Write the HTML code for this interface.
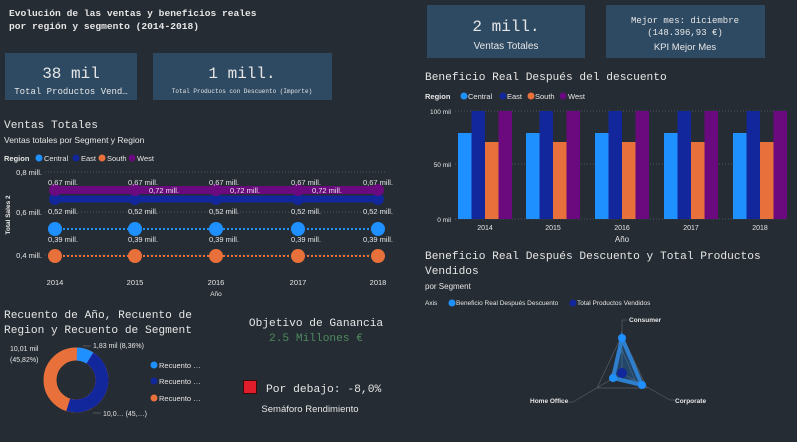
<!DOCTYPE html>
<html><head><meta charset="utf-8"><style>
body{margin:0;background:#252c33;width:797px;height:437px;overflow:hidden}
text{font-family:"Liberation Sans",sans-serif;fill:#e6e6e6}
.m{font-family:"Liberation Mono","DejaVu Sans Mono",monospace}
</style></head><body>
<svg width="797" height="437" xmlns="http://www.w3.org/2000/svg">
<rect width="797" height="437" fill="#252c33"/>
<text class="m" x="9" y="16" font-size="9.6" font-weight="bold">Evolución de las ventas y beneficios reales</text>
<text class="m" x="9" y="29" font-size="9.6" font-weight="bold">por región y segmento (2014-2018)</text>
<rect x="5" y="53" width="132" height="47" fill="#2e4a62"/>
<text class="m" x="71" y="78" font-size="16" text-anchor="middle">38 mil</text>
<text class="m" x="71" y="94" font-size="9" text-anchor="middle">Total Productos Vend…</text>
<rect x="153" y="53" width="179" height="47" fill="#2e4a62"/>
<text class="m" x="242" y="78" font-size="16" text-anchor="middle">1 mill.</text>
<text class="m" x="242" y="93" font-size="6" text-anchor="middle">Total Productos con Descuento (Importe)</text>
<rect x="427" y="5" width="158" height="53" fill="#2e4a62"/>
<text class="m" x="506" y="31" font-size="16" text-anchor="middle">2 mill.</text>
<text x="506" y="49" font-size="10" text-anchor="middle">Ventas Totales</text>
<rect x="606" y="5" width="159" height="53" fill="#2e4a62"/>
<text class="m" x="685" y="23" font-size="9" text-anchor="middle">Mejor mes: diciembre</text>
<text class="m" x="685" y="35" font-size="9" text-anchor="middle">(148.396,93 €)</text>
<text x="685" y="50" font-size="9.5" text-anchor="middle">KPI Mejor Mes</text>

<text class="m" x="4" y="128" font-size="11.2">Ventas Totales</text>
<text x="4" y="143" font-size="8.5">Ventas totales  por Segment y Region</text>
<text x="4" y="161" font-size="7.5" font-weight="bold">Region</text>
<circle cx="39" cy="158" r="3.5" fill="#1e90ff"/><text x="44" y="161" font-size="7.5">Central</text>
<circle cx="76" cy="158" r="3.5" fill="#13279c"/><text x="81" y="161" font-size="7.5">East</text>
<circle cx="102" cy="158" r="3.5" fill="#e8703a"/><text x="107" y="161" font-size="7.5">South</text>
<circle cx="132" cy="158" r="3.5" fill="#6b0a7e"/><text x="137" y="161" font-size="7.5">West</text>
<g stroke="#5a6470" stroke-dasharray="1,2" stroke-width="0.8">
<line x1="45" y1="172" x2="385" y2="172"/><line x1="45" y1="212" x2="385" y2="212"/><line x1="45" y1="255" x2="385" y2="255"/>
</g>
<text x="42" y="175" font-size="7.5" text-anchor="end">0,8 mill.</text>
<text x="42" y="215" font-size="7.5" text-anchor="end">0,6 mill.</text>
<text x="42" y="258" font-size="7.5" text-anchor="end">0,4 mill.</text>
<text x="10" y="215" font-size="6.5" font-weight="bold" transform="rotate(-90 10 215)" text-anchor="middle">Total Sales 2</text>
<line x1="55" y1="190" x2="378" y2="190" stroke="#6b0a7e" stroke-width="8"/>
<line x1="55" y1="199" x2="378" y2="199" stroke="#13279c" stroke-width="7"/>
<line x1="55" y1="229" x2="378" y2="229" stroke="#1e90ff" stroke-width="2" stroke-dasharray="2,2"/>
<line x1="55" y1="256" x2="378" y2="256" stroke="#e8703a" stroke-width="2" stroke-dasharray="2,2"/>
<g font-size="7.5">
<g transform="translate(55 0)"><circle cy="199" r="6" fill="#13279c"/><circle cy="190" r="6" fill="#6b0a7e"/><circle cy="229" r="7" fill="#1e90ff"/><circle cy="256" r="7" fill="#e8703a"/><text x="-7" y="185">0,67 mill.</text><text x="-7" y="214">0,52 mill.</text><text x="-7" y="242">0,39 mill.</text><text y="285" text-anchor="middle">2014</text></g>
<g transform="translate(135 0)"><circle cy="199" r="6" fill="#13279c"/><circle cy="190" r="6" fill="#6b0a7e"/><circle cy="229" r="7" fill="#1e90ff"/><circle cy="256" r="7" fill="#e8703a"/><text x="-7" y="185">0,67 mill.</text><text x="14" y="193">0,72 mill.</text><text x="-7" y="214">0,52 mill.</text><text x="-7" y="242">0,39 mill.</text><text y="285" text-anchor="middle">2015</text></g>
<g transform="translate(216 0)"><circle cy="199" r="6" fill="#13279c"/><circle cy="190" r="6" fill="#6b0a7e"/><circle cy="229" r="7" fill="#1e90ff"/><circle cy="256" r="7" fill="#e8703a"/><text x="-7" y="185">0,67 mill.</text><text x="14" y="193">0,72 mill.</text><text x="-7" y="214">0,52 mill.</text><text x="-7" y="242">0,39 mill.</text><text y="285" text-anchor="middle">2016</text></g>
<g transform="translate(298 0)"><circle cy="199" r="6" fill="#13279c"/><circle cy="190" r="6" fill="#6b0a7e"/><circle cy="229" r="7" fill="#1e90ff"/><circle cy="256" r="7" fill="#e8703a"/><text x="-7" y="185">0,67 mill.</text><text x="14" y="193">0,72 mill.</text><text x="-7" y="214">0,52 mill.</text><text x="-7" y="242">0,39 mill.</text><text y="285" text-anchor="middle">2017</text></g>
<g transform="translate(378 0)"><circle cy="199" r="6" fill="#13279c"/><circle cy="190" r="6" fill="#6b0a7e"/><circle cy="229" r="7" fill="#1e90ff"/><circle cy="256" r="7" fill="#e8703a"/><text y="185" text-anchor="middle">0,67 mill.</text><text y="214" text-anchor="middle">0,52 mill.</text><text y="242" text-anchor="middle">0,39 mill.</text><text y="285" text-anchor="middle">2018</text></g>
</g>
<text x="216" y="296" font-size="6.5" text-anchor="middle">Año</text>

<text class="m" x="425" y="80" font-size="11.2">Beneficio Real Después del descuento</text>
<text x="425" y="99" font-size="7.5" font-weight="bold">Region</text>
<circle cx="464" cy="96" r="3.5" fill="#1e90ff"/><text x="468" y="99" font-size="7.5">Central</text>
<circle cx="503" cy="96" r="3.5" fill="#13279c"/><text x="507" y="99" font-size="7.5">East</text>
<circle cx="531" cy="96" r="3.5" fill="#e8703a"/><text x="535" y="99" font-size="7.5">South</text>
<circle cx="563" cy="96" r="3.5" fill="#6b0a7e"/><text x="568" y="99" font-size="7.5">West</text>
<g stroke="#5a6470" stroke-dasharray="1,2" stroke-width="0.8">
<line x1="455" y1="111" x2="788" y2="111"/><line x1="455" y1="164" x2="788" y2="164"/><line x1="455" y1="219" x2="788" y2="219"/>
</g>
<text x="451" y="114" font-size="6.5" text-anchor="end">100 mil</text>
<text x="451" y="167" font-size="6.5" text-anchor="end">50 mil</text>
<text x="451" y="222" font-size="6.5" text-anchor="end">0 mil</text>
<g>
<g transform="translate(458 0)"><rect x="0" y="133" width="13.5" height="86" fill="#1e90ff"/><rect x="13.5" y="111" width="13.5" height="108" fill="#13279c"/><rect x="27" y="142" width="13.5" height="77" fill="#e8703a"/><rect x="40.5" y="111" width="13.5" height="108" fill="#6b0a7e"/></g>
<g transform="translate(526 0)"><rect x="0" y="133" width="13.5" height="86" fill="#1e90ff"/><rect x="13.5" y="111" width="13.5" height="108" fill="#13279c"/><rect x="27" y="142" width="13.5" height="77" fill="#e8703a"/><rect x="40.5" y="111" width="13.5" height="108" fill="#6b0a7e"/></g>
<g transform="translate(595 0)"><rect x="0" y="133" width="13.5" height="86" fill="#1e90ff"/><rect x="13.5" y="111" width="13.5" height="108" fill="#13279c"/><rect x="27" y="142" width="13.5" height="77" fill="#e8703a"/><rect x="40.5" y="111" width="13.5" height="108" fill="#6b0a7e"/></g>
<g transform="translate(664 0)"><rect x="0" y="133" width="13.5" height="86" fill="#1e90ff"/><rect x="13.5" y="111" width="13.5" height="108" fill="#13279c"/><rect x="27" y="142" width="13.5" height="77" fill="#e8703a"/><rect x="40.5" y="111" width="13.5" height="108" fill="#6b0a7e"/></g>
<g transform="translate(733 0)"><rect x="0" y="133" width="13.5" height="86" fill="#1e90ff"/><rect x="13.5" y="111" width="13.5" height="108" fill="#13279c"/><rect x="27" y="142" width="13.5" height="77" fill="#e8703a"/><rect x="40.5" y="111" width="13.5" height="108" fill="#6b0a7e"/></g>
</g>
<g font-size="7" text-anchor="middle"><text x="485" y="230">2014</text><text x="553" y="230">2015</text><text x="622" y="230">2016</text><text x="691" y="230">2017</text><text x="760" y="230">2018</text></g>
<text x="622" y="242" font-size="8" text-anchor="middle">Año</text>

<text class="m" x="425" y="259" font-size="11.2">Beneficio Real Después Descuento y Total Productos</text>
<text class="m" x="425" y="274" font-size="11.2">Vendidos</text>
<text x="425" y="289" font-size="8">por Segment</text>
<text x="425" y="305" font-size="6.5">Axis</text>
<circle cx="452" cy="303" r="3.5" fill="#1e90ff"/><text x="456" y="305" font-size="6.5">Beneficio Real Después Descuento</text>
<circle cx="573" cy="303" r="3.5" fill="#13279c"/><text x="577" y="305" font-size="6.5">Total Productos Vendidos</text>
<g stroke="#555d66" stroke-width="0.7" fill="none">
<polyline points="622,320 622,373 573,402"/><line x1="622" y1="373" x2="670" y2="400"/>
<polygon points="622,335 597,388 647,388"/><polygon points="622,350 609,380 635,380"/>
<line x1="622" y1="320" x2="627" y2="320"/><line x1="573" y1="402" x2="568" y2="402"/><line x1="670" y1="400" x2="675" y2="400"/>
</g>
<polygon points="622,338 613,378 642,385" fill="#1e90ff" fill-opacity="0.25" stroke="#2f7fcf" stroke-width="4"/>
<circle cx="622" cy="373" r="5" fill="#13279c"/>
<circle cx="622" cy="338" r="4" fill="#1e90ff"/><circle cx="613" cy="378" r="4" fill="#1e90ff"/><circle cx="642" cy="385" r="4" fill="#1e90ff"/>
<text x="629" y="322" font-size="6.5" font-weight="bold">Consumer</text>
<text x="530" y="403" font-size="6.5" font-weight="bold">Home Office</text>
<text x="675" y="403" font-size="6.5" font-weight="bold">Corporate</text>

<text class="m" x="4" y="318" font-size="11.2">Recuento de Año, Recuento de</text>
<text class="m" x="4" y="333" font-size="11.2">Region y Recuento de Segment</text>
<g transform="translate(76 380)">
<circle r="26" fill="none" stroke="#e8703a" stroke-width="13"/>
<circle r="26" fill="none" stroke="#13279c" stroke-width="13" stroke-dasharray="74.9 200" transform="rotate(-58)"/>
<circle r="26" fill="none" stroke="#1e90ff" stroke-width="13" stroke-dasharray="13.7 200" transform="rotate(-88)"/>
</g>
<text x="10" y="351" font-size="7">10,01 mil</text>
<text x="10" y="362" font-size="7">(45,82%)</text>
<text x="93" y="348" font-size="7">1,83 mil (8,36%)</text>
<text x="103" y="416" font-size="7">10,0… (45,…)</text>
<line x1="83" y1="346" x2="91" y2="346" stroke="#777" stroke-width="0.6"/>
<line x1="93" y1="413" x2="101" y2="413" stroke="#777" stroke-width="0.6"/>
<circle cx="154" cy="365" r="3.5" fill="#1e90ff"/><text x="159" y="368" font-size="7.5">Recuento …</text>
<circle cx="154" cy="381" r="3.5" fill="#13279c"/><text x="159" y="384" font-size="7.5">Recuento …</text>
<circle cx="154" cy="398" r="3.5" fill="#e8703a"/><text x="159" y="401" font-size="7.5">Recuento …</text>

<text class="m" x="316" y="326" font-size="11.2" text-anchor="middle">Objetivo de Ganancia</text>
<text class="m" x="316" y="341" font-size="11.2" text-anchor="middle" style="fill:#4e8a5e">2.5 Millones €</text>
<rect x="243.5" y="380.5" width="13" height="13" fill="#e01e2b" stroke="#3a0a0a"/>
<text class="m" x="266" y="392" font-size="11.3">Por debajo: -8,0%</text>
<text x="310" y="412" font-size="9.5" text-anchor="middle">Semáforo Rendimiento</text>
</svg>
</body></html>
